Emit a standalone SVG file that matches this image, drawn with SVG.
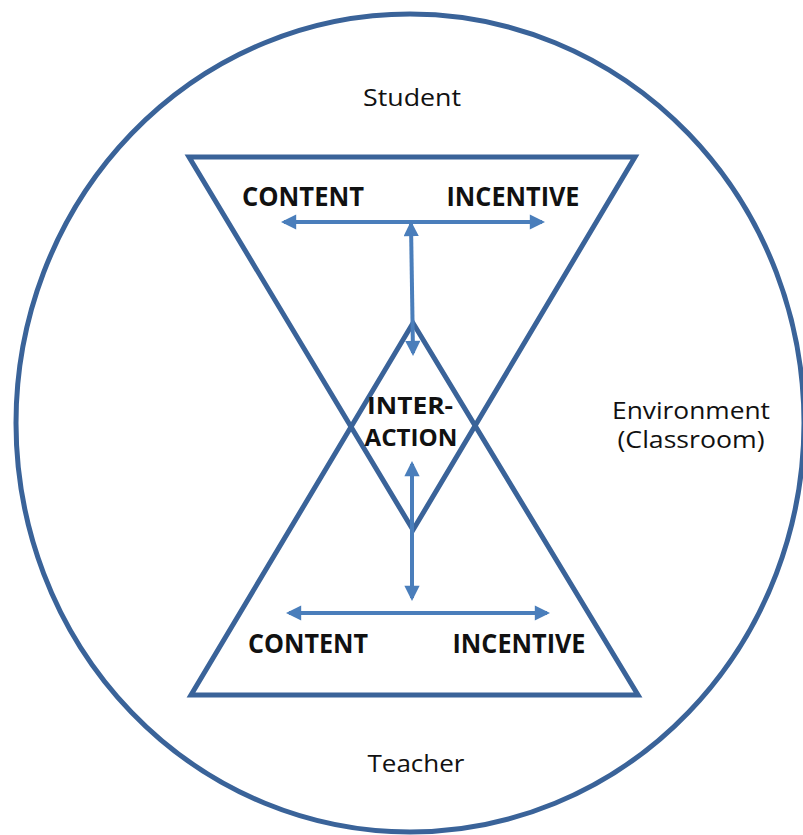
<svg xmlns="http://www.w3.org/2000/svg" width="803" height="835" viewBox="0 0 803 835">
  <style>
    .outline { fill: none; stroke: #3a6399; stroke-width: 5; stroke-linejoin: miter; }
    .arrow { fill: none; stroke: #4a7ebb; stroke-width: 4; marker-start: url(#ah); marker-end: url(#ah); }
    .lbl { font-family: "Open Sans", "Liberation Sans", sans-serif; font-size: 23px; fill: #111; text-anchor: middle; }
    .bold { font-family: "Open Sans", "Liberation Sans", sans-serif; font-size: 26px; font-weight: bold; fill: #111; text-anchor: middle; }
    .mid { font-size: 23px; }
  </style>
  <defs>
    <marker id="ah" viewBox="0 0 10 10" refX="8" refY="5" markerWidth="4" markerHeight="3.8" orient="auto-start-reverse" markerUnits="strokeWidth">
      <path d="M0,0 L10,5 L0,10 Z" fill="#4a7ebb"/>
    </marker>
  </defs>
  <rect width="803" height="835" fill="#ffffff"/>

  <g id="environment">
    <ellipse cx="410" cy="423" rx="394" ry="409" class="outline"/>
    <text class="lbl" x="691" y="419" textLength="158" lengthAdjust="spacingAndGlyphs">Environment</text>
    <text class="lbl" x="691" y="448" textLength="147" lengthAdjust="spacingAndGlyphs">(Classroom)</text>
  </g>

  <g id="student">
    <polygon points="189,157 635,157 413,530" class="outline"/>
    <text class="lbl" x="412" y="106" textLength="98" lengthAdjust="spacingAndGlyphs">Student</text>
    <text class="bold" x="303" y="206" textLength="122" lengthAdjust="spacingAndGlyphs">CONTENT</text>
    <text class="bold" x="513" y="206" textLength="133" lengthAdjust="spacingAndGlyphs">INCENTIVE</text>
  </g>

  <g id="teacher">
    <polygon points="191,695 638,695 413,323" class="outline"/>
    <text class="lbl" x="416" y="772" textLength="97" lengthAdjust="spacingAndGlyphs">Teacher</text>
    <text class="bold" x="308" y="653" textLength="120" lengthAdjust="spacingAndGlyphs">CONTENT</text>
    <text class="bold" x="519" y="653" textLength="133" lengthAdjust="spacingAndGlyphs">INCENTIVE</text>
  </g>

  <g id="interaction">
    <text class="bold mid" x="410" y="414" textLength="86" lengthAdjust="spacingAndGlyphs">INTER-</text>
    <text class="bold mid" x="411" y="446" textLength="93" lengthAdjust="spacingAndGlyphs">ACTION</text>
  </g>

  <g id="connectors">
    <line x1="284" y1="222" x2="542" y2="222" class="arrow"/>
    <line x1="413" y1="353" x2="411" y2="224" class="arrow"/>
    <line x1="412" y1="464" x2="412" y2="598" class="arrow"/>
    <line x1="289" y1="613" x2="547" y2="613" class="arrow"/>
  </g>
</svg>
